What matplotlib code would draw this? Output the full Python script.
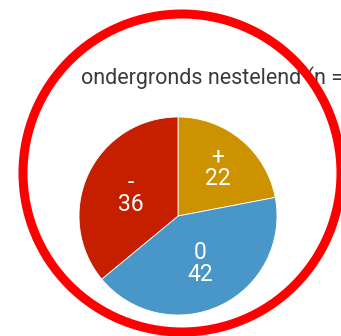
import matplotlib
matplotlib.use("Agg")
import matplotlib.pyplot as plt
from matplotlib.patches import Circle
import numpy as np

# Data
categories = ["+", "0", "-"]
values = [22, 42, 36]
colors = ["#CC9200", "#4996C8", "#C51F00"]
title = "ondergronds nestelend (n = 100)"

font = ["Roboto", "DejaVu Sans"]

W, H = 341, 336
fig = plt.figure(figsize=(W / 100, H / 100), dpi=100)
fig.patch.set_facecolor("white")

# Pie axes
ax = fig.add_axes([79 / W, 21 / H, 198 / W, 198 / H])
wedges, _ = ax.pie(values, colors=colors, startangle=90, counterclock=False,
                   wedgeprops=dict(edgecolor="white", linewidth=0.6))
ax.set_xlim(-1, 1)
ax.set_ylim(-1, 1)
ax.set_aspect("equal")
ax.axis("off")

# Value labels inside the slices
label_radius = [0.63, 0.53, 0.53]
for w, cat, val, r in zip(wedges, categories, values, label_radius):
    mid = np.deg2rad((w.theta1 + w.theta2) / 2)
    ax.text(r * np.cos(mid), r * np.sin(mid), f"{cat}\n{val}",
            ha="center", va="center", color="white", fontsize=16.5,
            family=font, linespacing=0.95)

# Title
fig.text(81 / W, 1 - 84 / H, title, ha="left", va="baseline",
         fontsize=15.5, color="#3a3a3a", family=font)

# Red highlight ring
ring = Circle((1.82, 1.63), 1.59, transform=fig.dpi_scale_trans,
              fill=False, edgecolor="#FF0000", linewidth=6.5, zorder=10)
fig.add_artist(ring)

fig.savefig("out.png", dpi=100)
